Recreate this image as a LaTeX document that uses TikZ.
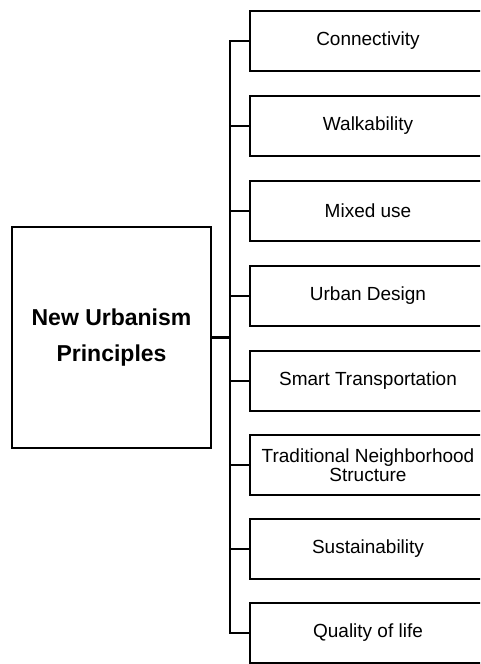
\documentclass[tikz,border=0pt]{standalone}
\usepackage{fontspec}
\setmainfont{Liberation Sans}
\begin{document}
\begin{tikzpicture}[x=1pt,y=-1pt,
  itembox/.style={draw=black,line width=2.6pt,fill=white,minimum width=236pt,minimum height=60pt,inner sep=0pt,align=center,font=\fontsize{19}{18.5}\selectfont},
  mainbox/.style={draw=black,line width=2.6pt,fill=white,minimum width=199pt,minimum height=221pt,inner sep=0pt,align=center,font=\fontsize{23}{36}\selectfont\bfseries},
  link/.style={draw=black,line width=2.4pt}]
\useasboundingbox (0,0) rectangle (480,664);
\clip (0,0) rectangle (480,664);
\node[mainbox] (main) at (111.5,337.5) {New Urbanism\\Principles};
\coordinate (spine) at (230,0);
\node[itembox] (b1) at (368,41) {Connectivity};
\node[itembox] (b2) at (368,126) {Walkability};
\node[itembox] (b3) at (368,211) {Mixed use};
\node[itembox] (b4) at (368,296) {Urban Design};
\node[itembox] (b5) at (368,381) {Smart Transportation};
\node[itembox] (b6) at (368,465) {Traditional Neighborhood\\Structure};
\node[itembox] (b7) at (368,549) {Sustainability};
\node[itembox] (b8) at (368,633) {Quality of life};
\draw[link,line cap=rect] (spine |- b1.west) -- (spine |- b8.west);
\foreach \b in {b1,b2,b3,b4,b5,b6,b7,b8}
  \draw[link] (spine |- \b.west) -- (\b.west);
\draw[link] (main.east) -- (main.east -| spine);
\end{tikzpicture}
\end{document}
